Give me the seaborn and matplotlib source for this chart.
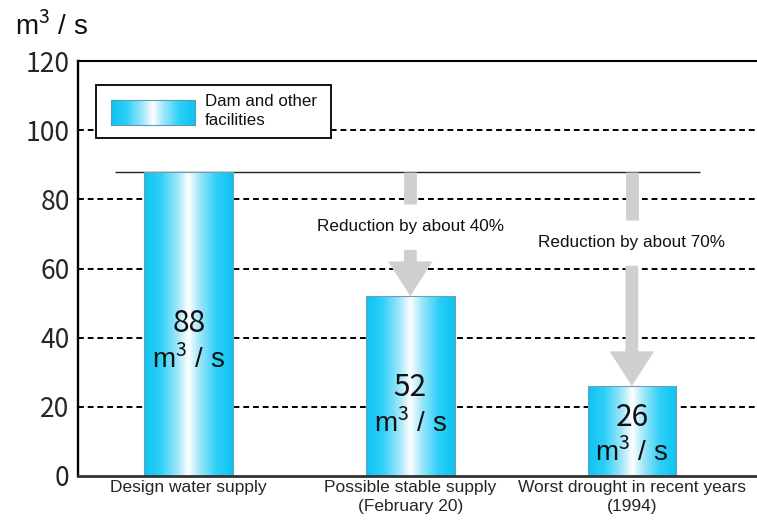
import numpy as np
import pandas as pd
import matplotlib
matplotlib.use("Agg")
import matplotlib.pyplot as plt
import matplotlib.patches as mpatches
from matplotlib.colors import LinearSegmentedColormap
import seaborn as sns

# ---- data -------------------------------------------------------------
categories = [
    "Design water supply",
    "Possible stable supply\n(February 20)",
    "Worst drought in recent years\n(1994)",
]
supply = [88, 52, 26]                       # m3/s
reduction_labels = ["Reduction by about 40%", "Reduction by about 70%"]
y_ticks = [0, 20, 40, 60, 80, 100, 120]
unit_label = "m$^3$ / s"
legend_label = "Dam and other\nfacilities"

# ---- layout constants ---------------------------------------------------
value_label_y = [44, 25.5, 17]              # height of the number inside each bar
reduction_text_y = [72, 67.4]               # height of the reduction captions
caption_gap = 6.6                           # half-height of the break in each arrow
arrow_grey = "#cfcfcf"
JP = "Noto Sans CJK JP"

sns.set_theme(style="white")
plt.rcParams["font.family"] = ["Liberation Sans", "DejaVu Sans"]
plt.rcParams["mathtext.fontset"] = "custom"
plt.rcParams["mathtext.rm"] = JP
plt.rcParams["mathtext.it"] = JP
plt.rcParams["mathtext.bf"] = JP
plt.rcParams["mathtext.sf"] = JP
plt.rcParams["mathtext.default"] = "rm"

water = LinearSegmentedColormap.from_list(
    "water",
    [(0.0, "#0ec4f2"), (0.18, "#2ccff7"), (0.38, "#a2e7fb"), (0.5, "#ffffff"),
     (0.62, "#a2e7fb"), (0.82, "#2ccff7"), (1.0, "#0ec4f2")],
)
gradient = np.linspace(0, 1, 256).reshape(1, -1)

fig, ax = plt.subplots(figsize=(7.57, 5.20), dpi=100)
fig.subplots_adjust(left=78 / 757, right=1.0, bottom=1 - 476 / 520, top=1 - 61 / 520)

df = pd.DataFrame({"category": categories, "supply": supply})
sns.barplot(data=df, x="category", y="supply", width=0.4, color="#2ccff7",
            edgecolor="#6f9fb3", linewidth=0.8, ax=ax, zorder=2)

# horizontal gradient fill for each bar
for bar in list(ax.patches):
    x0, y0 = bar.get_x(), bar.get_y()
    w, h = bar.get_width(), bar.get_height()
    im = ax.imshow(gradient, cmap=water, extent=[x0, x0 + w, y0, y0 + h],
                   aspect="auto", interpolation="bilinear", zorder=2.1)
    im.set_clip_path(bar)
    bar.set_facecolor("none")
    bar.set_zorder(2.2)

ax.set_xlim(-0.50, 2.565)
ax.set_ylim(0, 120)
ax.set_yticks(y_ticks)

# dashed reference lines
for v in y_ticks[1:-1]:
    ax.axhline(v, color="black", lw=1.4, ls=(0, (3, 2)), zorder=1)

# level of the design supply carried across the chart
ax.hlines(supply[0], -0.334, 2.307, color="#222222", lw=1.0, zorder=1.5)

# reduction arrows, broken by their captions
for i, (label, ty) in enumerate(zip(reduction_labels, reduction_text_y), start=1):
    ax.plot([i, i], [supply[0], ty + caption_gap], color=arrow_grey, lw=9.2,
            solid_capstyle="butt", zorder=1.8)
    arrow = mpatches.FancyArrowPatch(
        (i, ty - caption_gap), (i, supply[i]),
        arrowstyle=mpatches.ArrowStyle.Simple(head_length=25, head_width=32, tail_width=9.2),
        mutation_scale=1, shrinkA=0, shrinkB=0, color=arrow_grey, lw=0, zorder=1.8)
    ax.add_patch(arrow)
    ax.text(i, ty, label, ha="center", va="center", fontsize=12.3, color="#111111", zorder=3)

# value labels inside the bars
for i, (v, ly) in enumerate(zip(supply, value_label_y)):
    ax.text(i, ly, f"{v}", ha="center", va="center", fontsize=21.5,
            family=JP, color="#111111", zorder=3)
    ax.annotate(unit_label, (i, ly), xytext=(0, -35), textcoords="offset pixels",
                ha="center", va="center", fontsize=20, color="#111111", zorder=3)

# legend drawn as a framed box with a gradient swatch
ax.add_patch(mpatches.Rectangle((0.0265, 0.8145), 0.3461, 0.1275, transform=ax.transAxes,
                                facecolor="white", edgecolor="black", lw=1.3, zorder=3))
swatch = fig.add_axes([111 / 757, 1 - 125 / 520, 84 / 757, 25 / 520], zorder=5)
swatch.imshow(gradient, cmap=water, aspect="auto", interpolation="bilinear")
swatch.set_xticks([])
swatch.set_yticks([])
for s in swatch.spines.values():
    s.set_color("#5a9bb5")
    s.set_linewidth(0.8)
ax.text(0.187, 0.8795, legend_label, transform=ax.transAxes, ha="left", va="center",
        fontsize=12.2, color="#111111", linespacing=1.3, zorder=4)

# axes styling
ax.spines["right"].set_visible(False)
ax.spines["left"].set_color("black")
ax.spines["left"].set_linewidth(1.7)
ax.spines["top"].set_color("black")
ax.spines["top"].set_linewidth(1.5)
ax.spines["bottom"].set_color("#333333")
ax.spines["bottom"].set_linewidth(2.0)
ax.set_xlabel("")
ax.set_ylabel("")
ax.tick_params(axis="y", length=0, pad=6, labelsize=19)
ax.tick_params(axis="x", length=0, pad=3, labelsize=12.5)
for t in ax.get_yticklabels():
    t.set_family(JP)
for t in ax.get_xticklabels():
    t.set_linespacing(1.3)

fig.text(15 / 757, 1 - 26 / 520, unit_label, ha="left", va="center", fontsize=20, color="#111111")

fig.savefig("out.png", dpi=100)
